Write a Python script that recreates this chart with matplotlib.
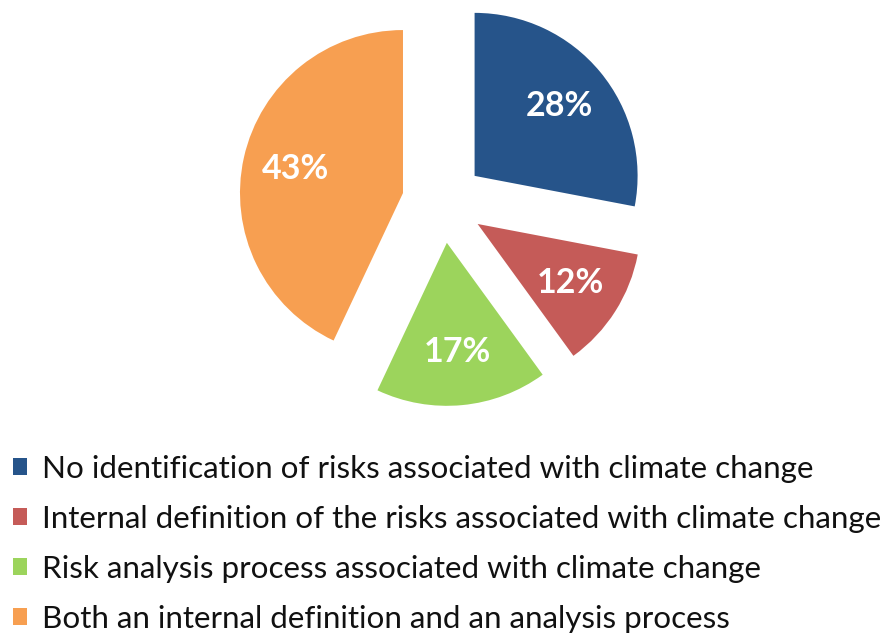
import matplotlib
matplotlib.use('Agg')
import matplotlib.pyplot as plt

#----------------------------
#          DATA
#----------------------------
categories = ['No identification of risks associated with climate change',
              'Internal definition of the risks associated with climate change',
              'Risk analysis process associated with climate change',
              'Both an internal definition and an analysis process']
shares = [28, 12, 17, 43]
colors = ['#26548A', '#C55B58', '#9CD45C', '#F79F51']

plt.rcParams['font.family'] = ['Lato', 'DejaVu Sans']

fig = plt.figure(figsize=(8.89, 6.35), dpi=100)
ax = fig.add_axes([0, 0, 1, 1])
ax.set_xlim(0, 889)
ax.set_ylim(0, 635)
ax.set_aspect('equal')
ax.axis('off')

wedges, texts, autotexts = ax.pie(shares, colors=colors, startangle=90, counterclock=False,
                                  center=(443, 433), radius=163, explode=[41]*4,
                                  autopct='%d%%', pctdistance=0.675,
                                  wedgeprops=dict(linewidth=0),
                                  textprops=dict(color='white', fontsize=24.5, fontweight='bold'))
ax.set_xlim(0, 889)
ax.set_ylim(0, 635)

leg = ax.legend(wedges, categories, loc='upper left', bbox_to_anchor=(13/889, 1-455/635),
                frameon=False, fontsize=22.6, borderpad=0, borderaxespad=0,
                handlelength=0.45, handleheight=0.45, handletextpad=0.48,
                labelspacing=0.70)
for t in leg.get_texts():
    t.set_color('#111111')

plt.savefig('out.png', dpi=100)
